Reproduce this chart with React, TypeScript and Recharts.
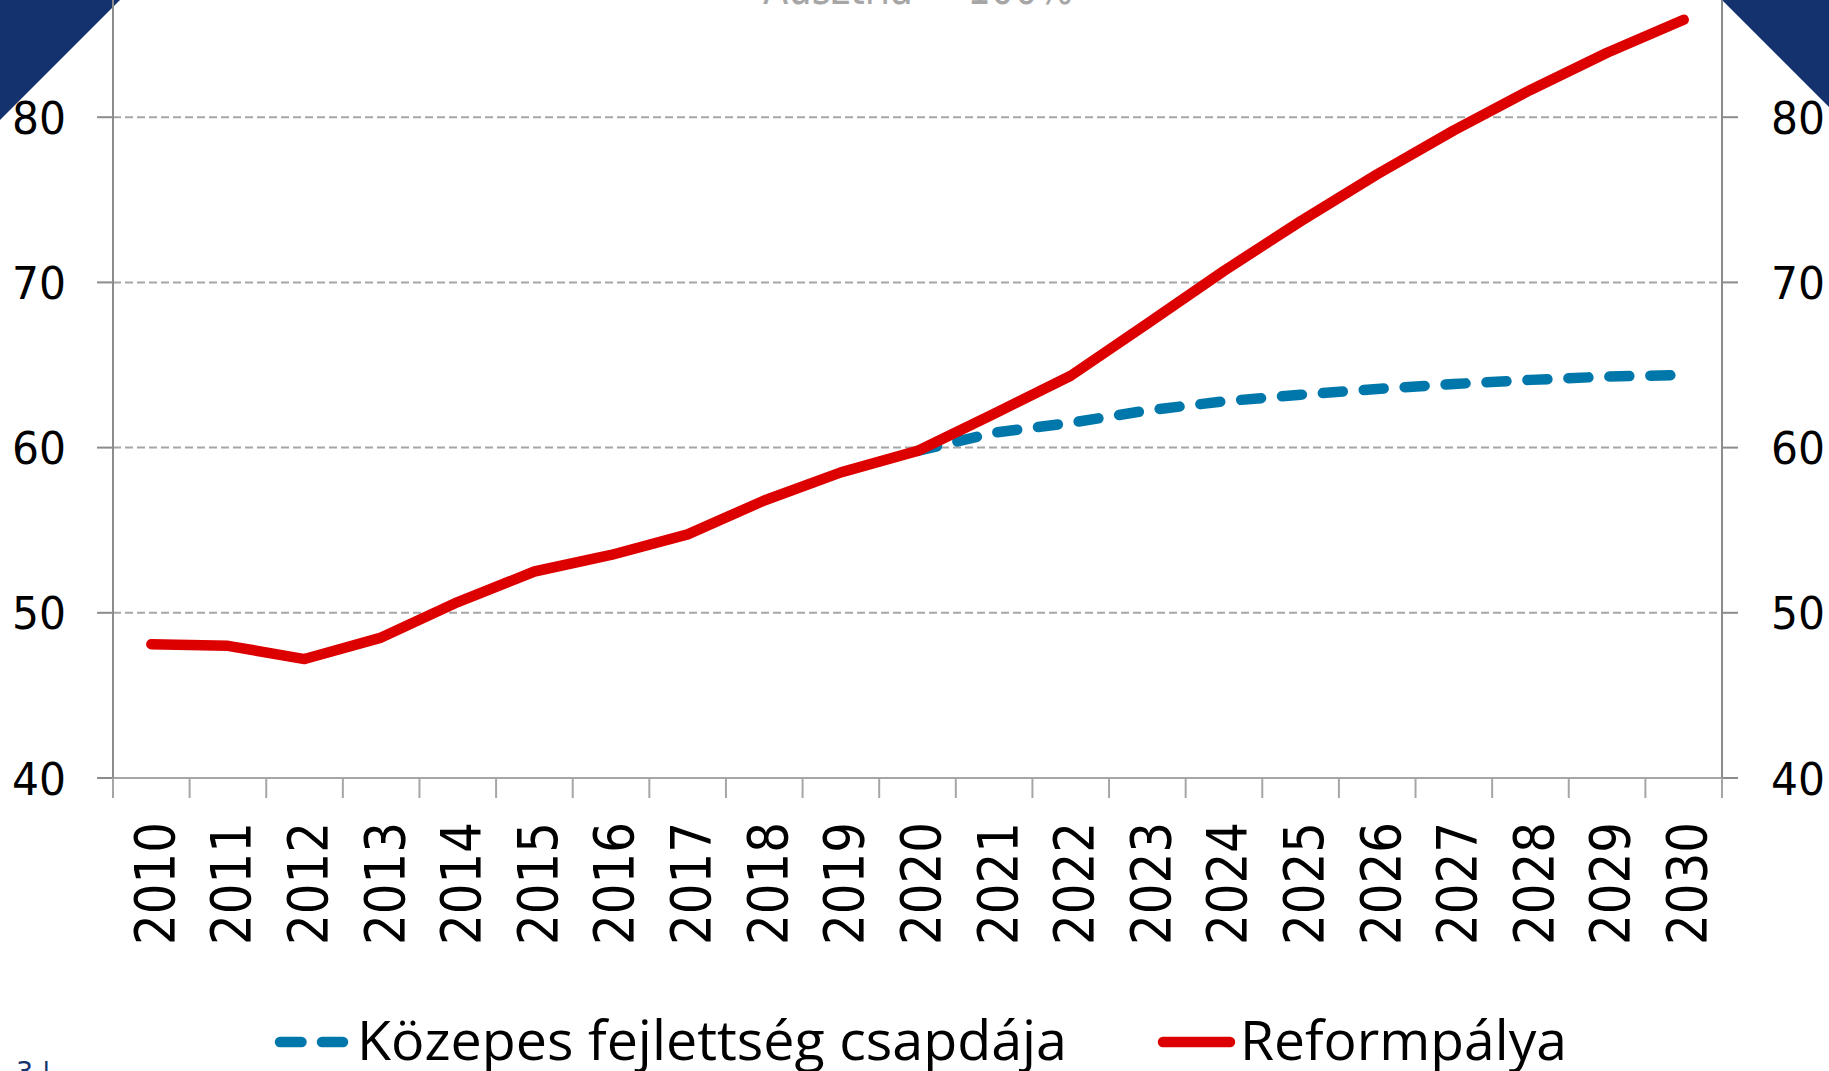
import { LineChart, Line, XAxis, YAxis, CartesianGrid, Legend } from 'recharts'

const years = ['2010', '2011', '2012', '2013', '2014', '2015', '2016', '2017', '2018', '2019', '2020',
  '2021', '2022', '2023', '2024', '2025', '2026', '2027', '2028', '2029', '2030']
// Közepes fejlettség csapdája (only drawn from 2020 on)
const trapValues = [null, null, null, null, null, null, null, null, null, null, 59.8,
  60.9, 61.5, 62.25, 62.8, 63.2, 63.55, 63.85, 64.1, 64.3, 64.4]
// Reformpálya
const reformValues = [48.1, 48.0, 47.2, 48.5, 50.65, 52.5, 53.5, 54.75, 56.8, 58.5, 59.8,
  62.05, 64.35, 67.5, 70.7, 73.7, 76.55, 79.2, 81.65, 83.9, 85.9]
const yTicks = [40, 50, 60, 70, 80, 90]
const seriesNames = ['Közepes fejlettség csapdája', 'Reformpálya']
const title = 'Ausztria = 100%'

const data = years.map((year, i) => ({ year, trap: trapValues[i], reform: reformValues[i] }))

const W = 1829
const H = 1071
const SHIFT = 100 // chart svg is pulled up, its top is cropped like the original
const LEFT_W = 113
const RIGHT_W = 107
const BAND = (W - LEFT_W - RIGHT_W) / years.length

const RED = '#dd0000'
const BLUE = '#0077aa'
const NAVY = '#14336e'
const AXIS = '#8c8c8c'
const GRID = '#a6a6a6'

const LeftTick = (props: any) => {
  const { x, y, payload } = props
  return (
    <text x={x} y={y + 16.5} textAnchor="end" fontFamily="DejaVu Sans" fontSize={45}
      textLength={54} lengthAdjust="spacingAndGlyphs" fill="#000">
      {payload.value}
    </text>
  )
}

const RightTick = (props: any) => {
  const { x, y, payload } = props
  return (
    <text x={x} y={y + 16.5} textAnchor="start" fontFamily="DejaVu Sans" fontSize={45}
      textLength={54} lengthAdjust="spacingAndGlyphs" fill="#000">
      {payload.value}
    </text>
  )
}

const YearTick = (props: any) => {
  const { x, y, payload, index } = props
  const half = BAND / 2
  return (
    <g>
      <line x1={x - half} x2={x - half} y1={y} y2={y + 20} stroke={GRID} strokeWidth={2} />
      {index === years.length - 1 && (
        <line x1={x + half} x2={x + half} y1={y} y2={y + 20} stroke={GRID} strokeWidth={2} />
      )}
      <text transform={`translate(${x + 22.4},${y + 44}) rotate(-90)`} textAnchor="end"
        fontFamily="DejaVu Sans" fontSize={56} textLength={123} lengthAdjust="spacingAndGlyphs" fill="#000">
        {payload.value}
      </text>
    </g>
  )
}

const LegendBox = () => {
  const ly = 1042 + SHIFT
  const ty = 1060 + SHIFT
  return (
    <svg width={W} height={H + SHIFT} style={{ display: 'block' }}>
      <line x1={280} x2={301.5} y1={ly} y2={ly} stroke={BLUE} strokeWidth={10.5} strokeLinecap="round" />
      <line x1={322} x2={343} y1={ly} y2={ly} stroke={BLUE} strokeWidth={10.5} strokeLinecap="round" />
      <text x={357} y={ty} fontFamily="Open Sans" fontSize={54} textLength={710}
        lengthAdjust="spacingAndGlyphs" fill="#000">{seriesNames[0]}</text>
      <line x1={1163} x2={1230} y1={ly} y2={ly} stroke={RED} strokeWidth={10.5} strokeLinecap="round" />
      <text x={1240} y={ty} fontFamily="Open Sans" fontSize={54} textLength={327}
        lengthAdjust="spacingAndGlyphs" fill="#000">{seriesNames[1]}</text>
    </svg>
  )
}

export default function App() {
  return (
    <div style={{ position: 'fixed', left: 0, top: 0, width: W, height: H, overflow: 'hidden', background: '#fff' }}>
      <svg width={W} height={H} style={{ position: 'absolute', left: 0, top: 0 }}>
        <polygon points="0,0 120,0 0,120" fill={NAVY} />
        <polygon points="1722,0 1829,0 1829,107" fill={NAVY} />
        <text x={763} y={4} fontFamily="DejaVu Sans" fontSize={45} textLength={310}
          lengthAdjust="spacingAndGlyphs" fill="#a6a6a6">{title}</text>
        <text x={16} y={1081} fontFamily="DejaVu Sans" fontSize={27} fill={NAVY}>3 |</text>
      </svg>
      <div style={{ position: 'absolute', left: 0, top: -SHIFT }}>
        <LineChart width={W} height={H + SHIFT} data={data}
          margin={{ top: 52, right: 0, bottom: 93, left: 0 }}>
          <CartesianGrid vertical={false} stroke={GRID} strokeWidth={2} strokeDasharray="8 4" />
          <XAxis dataKey="year" scale="band" interval={0} height={200}
            axisLine={{ stroke: GRID, strokeWidth: 2 }} tickLine={false} tickSize={0} tickMargin={0}
            tick={<YearTick />} />
          <YAxis domain={[40, 90]} ticks={yTicks} width={LEFT_W} allowDataOverflow
            axisLine={{ stroke: AXIS, strokeWidth: 2 }} tickLine={{ stroke: AXIS, strokeWidth: 2 }}
            tickSize={16} tickMargin={31} tick={<LeftTick />} />
          <YAxis yAxisId="right" orientation="right" domain={[40, 90]} ticks={yTicks} width={RIGHT_W}
            allowDataOverflow axisLine={{ stroke: AXIS, strokeWidth: 2 }}
            tickLine={{ stroke: AXIS, strokeWidth: 2 }} tickSize={16} tickMargin={33} tick={<RightTick />} />
          <Legend layout="horizontal" verticalAlign="middle" align="center" content={<LegendBox />}
            wrapperStyle={{ left: 0, top: 0, width: W, height: H + SHIFT, pointerEvents: 'none' }} />
          <Line dataKey="trap" name={seriesNames[0]} stroke={BLUE} strokeWidth={10.5}
            strokeDasharray="20 21" strokeLinecap="round" dot={false} activeDot={false}
            isAnimationActive={false} />
          <Line dataKey="reform" name={seriesNames[1]} stroke={RED} strokeWidth={10.5}
            strokeLinecap="round" strokeLinejoin="round" dot={false} activeDot={false}
            isAnimationActive={false} />
        </LineChart>
      </div>
    </div>
  )
}
